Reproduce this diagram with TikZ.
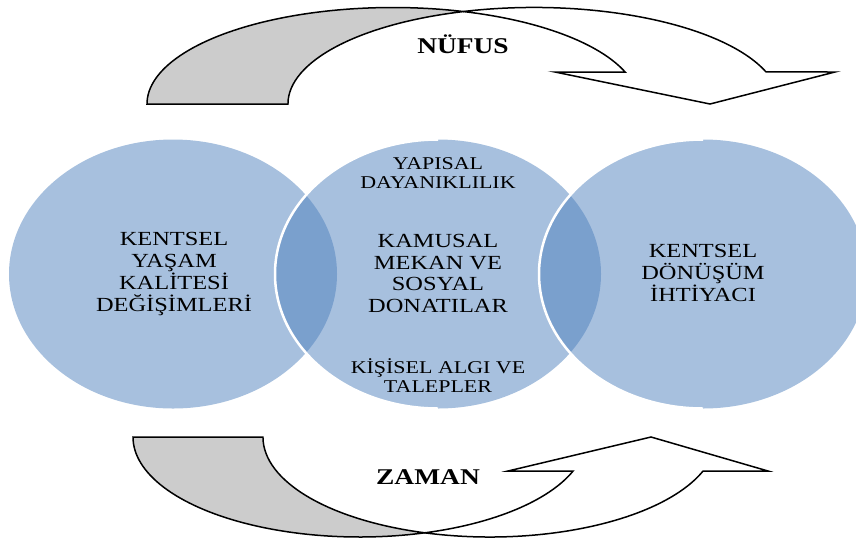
\documentclass[tikz,border=0pt]{standalone}
\usepackage{fontspec}
\setmainfont{Liberation Serif}[FakeStretch=1.22]
\begin{document}
\begin{tikzpicture}[x=1pt,y=1pt,
  venn/.style={fill=vennblue,fill opacity=0.5},
  vennedge/.style={draw=white,line width=2.5pt},
  backband/.style={draw=black,line width=1.5pt,fill=bandgray,line join=miter},
  frontband/.style={draw=black,line width=1.5pt,fill=white,line join=miter},
  bigtxt/.style={align=center,inner sep=0pt,font=\fontsize{20}{21.8}\selectfont},
  smalltxt/.style={align=center,inner sep=0pt,font=\fontsize{18}{19}\selectfont},
  lbl/.style={inner sep=0pt,anchor=base,font=\fontsize{22.5}{24}\selectfont\bfseries}]
\definecolor{vennblue}{HTML}{4F81BD}
\definecolor{bandgray}{HTML}{CCCCCC}
\useasboundingbox (0,0) rectangle (856,-542);
\begin{scope}
\clip (0,0) rectangle (856,-542);
% Venn ellipses
\fill[venn] (173,-274) ellipse [x radius=164pt, y radius=134.5pt];
\fill[venn] (438,-274) ellipse [x radius=163pt, y radius=134.5pt];
\fill[venn] (703,-274) ellipse [x radius=164pt, y radius=134.5pt];
\draw[vennedge] (438,-139.5) arc[start angle=90,end angle=270,x radius=163pt,y radius=134.5pt];
\draw[vennedge] (703,-139.5) arc[start angle=90,end angle=270,x radius=164pt,y radius=134.5pt];
% top curved arrow
\draw[backband] (147,-104)
  arc[start angle=180,end angle=73.35,x radius=246pt,y radius=96.5pt]
  arc[start angle=106.65,end angle=180,x radius=246pt,y radius=96.5pt] -- cycle;
\draw[frontband] (463.5,-11.5)
  arc[start angle=106.65,end angle=19.37,x radius=246pt,y radius=96.5pt]
  -- (835,-72) -- (710,-104) -- (555,-72) -- (625.1,-72)
  arc[start angle=19.37,end angle=73.35,x radius=246pt,y radius=96.5pt] -- cycle;
% bottom curved arrow
\draw[backband] (133,-437)
  arc[start angle=180,end angle=286.65,x radius=226.8pt,y radius=100pt]
  arc[start angle=253.35,end angle=180,x radius=226.8pt,y radius=100pt] -- cycle;
\draw[frontband] (424.8,-532.8)
  arc[start angle=253.35,end angle=340.12,x radius=226.8pt,y radius=100pt]
  -- (768,-471) -- (651,-437) -- (508,-471) -- (573.1,-471)
  arc[start angle=340.12,end angle=286.65,x radius=226.8pt,y radius=100pt] -- cycle;
\end{scope}
% labels
\node[lbl] (nufus) at (463,-53) {NÜFUS};
\node[lbl] (zaman) at (428,-484) {ZAMAN};
\node[bigtxt] (yasam) at (174,-274) {KENTSEL\\YAŞAM\\KALİTESİ\\DEĞİŞİMLERİ};
\node[bigtxt] (kamusal) at (438,-273.5) {KAMUSAL\\MEKAN VE\\SOSYAL\\DONATILAR};
\node[smalltxt] (yapisal) at (438,-173) {YAPISAL\\DAYANIKLILIK};
\node[smalltxt] (algi) at (438,-375.5) {KİŞİSEL ALGI VE\\TALEPLER};
\node[bigtxt] (donusum) at (703,-273) {KENTSEL\\DÖNÜŞÜM\\İHTİYACI};
\end{tikzpicture}
\end{document}
